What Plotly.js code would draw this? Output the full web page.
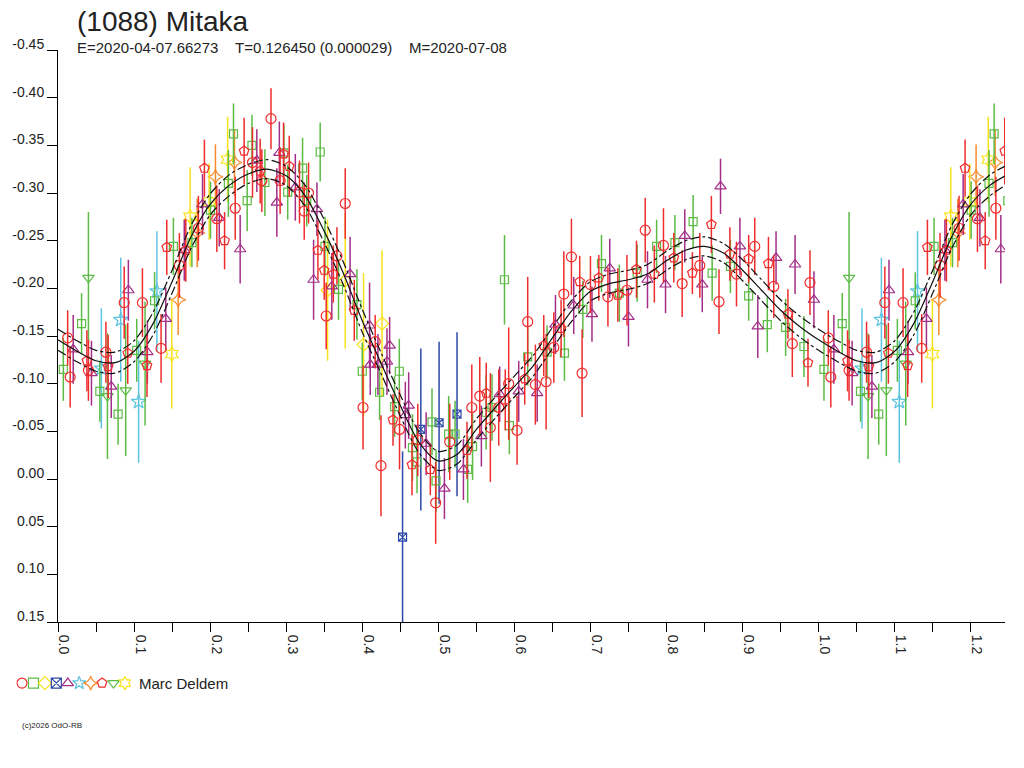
<!DOCTYPE html>
<html>
<head>
<meta charset="utf-8">
<script src="https://cdn.plot.ly/plotly-3.0.1.min.js"></script>
<style>
  html, body { margin: 0; padding: 0; background: #fff; }
  #lightcurve { width: 1024px; height: 768px; }
</style>
</head>
<body>
<div id="lightcurve"></div>
<script>
//chart global vars:
const font = 'Liberation Sans, Arial, sans-serif'
const textColor = '#222'
const xMax = 1.245

//red circles
const phaseRedCircle = [0.0127, 0.016, 0.040, 0.063, 0.087, 0.111, 0.1355, 0.1596, 0.1846, 0.2088, 0.233, 0.2557, 0.268, 0.280, 0.292, 0.3175, 0.3237, 0.3294, 0.3526, 0.3667, 0.3776, 0.401, 0.417, 0.4246, 0.449, 0.473, 0.4965, 0.515, 0.544, 0.5545, 0.5684, 0.5794, 0.5925, 0.6035, 0.6175, 0.6276, 0.6417, 0.6518, 0.665, 0.675, 0.689, 0.700, 0.723, 0.748, 0.772, 0.796, 0.8206, 0.8438, 0.869, 0.892, 0.916, 0.941, 0.9654, 0.9886]
const magRedCircle = [-0.148, -0.107, -0.114, -0.133, -0.185, -0.185, -0.137, -0.224, -0.263, -0.273, -0.284, -0.332, -0.313, -0.378, -0.313, -0.301, -0.281, -0.300, -0.171, -0.234, -0.289, -0.075, -0.144, -0.014, -0.052, -0.041, 0.025, -0.039, -0.075, -0.087, -0.054, -0.075, -0.100, -0.051, -0.165, -0.099, -0.102, -0.138, -0.194, -0.233, -0.111, -0.204, -0.191, -0.198, -0.261, -0.245, -0.205, -0.224, -0.186, -0.215, -0.244, -0.202, -0.142, -0.206]
const errRedCircle = [0.029, 0.032, 0.032, 0.032, 0.038, 0.036, 0.036, 0.034, 0.034, 0.035, 0.033, 0.037, 0.033, 0.032, 0.035, 0.033, 0.030, 0.032, 0.035, 0.030, 0.037, 0.044, 0.028, 0.053, 0.042, 0.038, 0.043, 0.040, 0.045, 0.041, 0.057, 0.040, 0.059, 0.036, 0.047, 0.042, 0.050, 0.037, 0.045, 0.040, 0.046, 0.030, 0.031, 0.037, 0.034, 0.039, 0.035, 0.034, 0.034, 0.034, 0.030, 0.033, 0.035, 0.034]

//green squares
const phaseGreenSquare = [0.007, 0.031, 0.055, 0.079, 0.1035, 0.127, 0.1517, 0.176, 0.2005, 0.224, 0.2307, 0.2487, 0.255, 0.272, 0.297, 0.302, 0.3215, 0.327, 0.3447, 0.351, 0.3688, 0.393, 0.400, 0.4228, 0.4425, 0.4487, 0.466, 0.472, 0.4917, 0.497, 0.5136, 0.522, 0.5386, 0.545, 0.5628, 0.5706, 0.587, 0.5934, 0.6175, 0.643, 0.6658, 0.690, 0.7145, 0.738, 0.7614, 0.787, 0.811, 0.835, 0.860, 0.884, 0.908, 0.9325, 0.9566, 0.9807]
const magGreenSquare = [-0.115, -0.163, -0.092, -0.068, -0.135, -0.187, -0.244, -0.248, -0.282, -0.310, -0.362, -0.292, -0.350, -0.311, -0.342, -0.301, -0.326, -0.292, -0.343, -0.244, -0.199, -0.183, -0.113, -0.091, -0.076, -0.113, -0.033, -0.018, -0.060, 0.002, -0.047, -0.047, -0.010, -0.034, -0.070, -0.075, -0.209, -0.056, -0.128, -0.133, -0.132, -0.178, -0.226, -0.195, -0.216, -0.244, -0.248, -0.270, -0.216, -0.223, -0.192, -0.162, -0.159, -0.139]
const errGreenSquare = [0.033, 0.032, 0.032, 0.032, 0.033, 0.030, 0.030, 0.026, 0.030, 0.035, 0.032, 0.032, 0.032, 0.035, 0.030, 0.029, 0.032, 0.027, 0.031, 0.031, 0.032, 0.037, 0.030, 0.029, 0.032, 0.034, 0.035, 0.033, 0.035, 0.033, 0.040, 0.035, 0.035, 0.035, 0.039, 0.035, 0.047, 0.030, 0.030, 0.028, 0.029, 0.030, 0.030, 0.030, 0.030, 0.028, 0.029, 0.028, 0.029, 0.028, 0.026, 0.029, 0.030, 0.032]

//yellow diamonds
const phaseYellowDiamond = [0.3544, 0.3776, 0.4017, 0.426]
const magYellowDiamond = [-0.198, -0.208, -0.141, -0.163]
const errYellowDiamond = [0.074, 0.071, 0.075, 0.077]

//blue crossed squares
const phaseBlueCross = [0.453, 0.477, 0.501, 0.5246]
const magBlueCross = [0.061, -0.052, -0.059, -0.068]
const errBlueCross = [0.090, 0.085, 0.085, 0.086]

//purple triangles
const phasePurpleTri = [0.020, 0.044, 0.070, 0.0925, 0.1175, 0.1417, 0.166, 0.190, 0.212, 0.2395, 0.2614, 0.2877, 0.291, 0.312, 0.336, 0.3404, 0.360, 0.384, 0.4096, 0.4105, 0.4206, 0.4325, 0.436, 0.4566, 0.461, 0.484, 0.508, 0.533, 0.5566, 0.5807, 0.6057, 0.630, 0.654, 0.678, 0.702, 0.7254, 0.750, 0.775, 0.7987, 0.824, 0.847, 0.871, 0.8965, 0.920, 0.944, 0.969, 0.9938]
const magPurpleTri = [-0.136, -0.111, -0.097, -0.198, -0.133, -0.168, -0.240, -0.288, -0.274, -0.241, -0.334, -0.290, -0.342, -0.306, -0.209, -0.283, -0.202, -0.215, -0.161, -0.120, -0.120, -0.123, -0.140, -0.067, -0.077, -0.037, 0.010, -0.010, -0.045, -0.089, -0.092, -0.090, -0.162, -0.182, -0.173, -0.221, -0.170, -0.209, -0.204, -0.255, -0.204, -0.307, -0.244, -0.160, -0.232, -0.225, -0.188]
const errPurpleTri = [0.036, 0.034, 0.033, 0.032, 0.033, 0.033, 0.032, 0.032, 0.030, 0.036, 0.033, 0.036, 0.033, 0.035, 0.042, 0.028, 0.035, 0.039, 0.045, 0.032, 0.032, 0.035, 0.030, 0.035, 0.035, 0.033, 0.032, 0.032, 0.032, 0.029, 0.032, 0.030, 0.031, 0.030, 0.029, 0.031, 0.031, 0.030, 0.030, 0.028, 0.029, 0.029, 0.030, 0.033, 0.028, 0.031, 0.030]

//cyan stars
const phaseCyanStar = [0.057, 0.0825, 0.106, 0.130]
const magCyanStar = [-0.116, -0.167, -0.081, -0.197]
const errCyanStar = [0.063, 0.065, 0.064, 0.063]

//orange four point stars
const phaseOrangeStar = [0.158, 0.183, 0.207, 0.232]
const magOrangeStar = [-0.188, -0.258, -0.317, -0.332]
const errOrangeStar = [0.037, 0.036, 0.034, 0.035]

//red pentagons
const phaseRedPenta = [0.038, 0.066, 0.0917, 0.117, 0.143, 0.168, 0.1925, 0.219, 0.2447, 0.2658, 0.2965, 0.304, 0.3417, 0.350, 0.362, 0.3895, 0.4404, 0.4654, 0.4895, 0.5377, 0.563, 0.588, 0.6136, 0.6386, 0.6614, 0.6859, 0.711, 0.736, 0.7605, 0.784, 0.8096, 0.834, 0.859, 0.8833, 0.908, 0.934, 0.9596, 0.986]
const magRedPenta = [-0.124, -0.118, -0.132, -0.119, -0.243, -0.240, -0.326, -0.250, -0.344, -0.323, -0.341, -0.328, -0.240, -0.219, -0.215, -0.177, -0.062, -0.015, -0.010, -0.030, -0.090, -0.083, -0.105, -0.140, -0.158, -0.207, -0.211, -0.193, -0.220, -0.215, -0.232, -0.216, -0.267, -0.236, -0.231, -0.226, -0.173, -0.122]
const errRedPenta = [0.032, 0.033, 0.032, 0.033, 0.029, 0.033, 0.030, 0.030, 0.035, 0.034, 0.033, 0.032, 0.031, 0.031, 0.030, 0.032, 0.027, 0.032, 0.027, 0.030, 0.032, 0.032, 0.027, 0.032, 0.030, 0.027, 0.024, 0.028, 0.030, 0.030, 0.026, 0.022, 0.030, 0.028, 0.025, 0.028, 0.026, 0.025]

//green down triangles
const phaseGreenDown = [0.040, 0.065, 0.089, 0.1145]
const magGreenDown = [-0.211, -0.087, -0.093, -0.121]
const errGreenDown = [0.069, 0.066, 0.069, 0.065]

//yellow six point stars
const phaseYellowStar = [0.1496, 0.1737, 0.1987, 0.223]
const magYellowStar = [-0.131, -0.275, -0.291, -0.335]
const errYellowStar = [0.057, 0.052, 0.040, 0.045]

//fitted curve (read every 0.025 in phase) and its band
const curvePhase = [0.000, 0.025, 0.050, 0.075, 0.100, 0.125, 0.150, 0.175, 0.200, 0.225, 0.250, 0.275, 0.300, 0.325, 0.350, 0.375, 0.400, 0.425, 0.450, 0.475, 0.500, 0.525, 0.550, 0.575, 0.600, 0.625, 0.650, 0.675, 0.700, 0.725, 0.750, 0.775, 0.800, 0.825, 0.850, 0.875, 0.900, 0.925, 0.950, 0.975]
const curveMag = [-0.146, -0.134, -0.124, -0.122, -0.134, -0.163, -0.207, -0.254, -0.288, -0.308, -0.320, -0.325, -0.318, -0.297, -0.260, -0.216, -0.166, -0.121, -0.077, -0.038, -0.019, -0.026, -0.052, -0.075, -0.097, -0.119, -0.148, -0.176, -0.197, -0.205, -0.209, -0.215, -0.229, -0.240, -0.244, -0.237, -0.219, -0.198, -0.177, -0.160]
const curveBand = [0.011, 0.011, 0.011, 0.011, 0.011, 0.012, 0.012, 0.012, 0.011, 0.011, 0.010, 0.010, 0.010, 0.011, 0.012, 0.012, 0.012, 0.011, 0.011, 0.011, 0.010, 0.010, 0.011, 0.011, 0.011, 0.011, 0.011, 0.011, 0.010, 0.010, 0.010, 0.010, 0.010, 0.010, 0.010, 0.010, 0.011, 0.011, 0.011, 0.011]

//tick labels
const xTickVals = [0, 0.1, 0.2, 0.3, 0.4, 0.5, 0.6, 0.7, 0.8, 0.9, 1.0, 1.1, 1.2]
const xTickText = ['0.0', '0.1', '0.2', '0.3', '0.4', '0.5', '0.6', '0.7', '0.8', '0.9', '1.0', '1.1', '1.2']
const yTickVals = [-0.45, -0.40, -0.35, -0.30, -0.25, -0.20, -0.15, -0.10, -0.05, 0.00, 0.05, 0.10, 0.15]
const yTickText = ['-0.45', '-0.40', '-0.35', '-0.30', '-0.25', '-0.20', '-0.15', '-0.10', '-0.05', '0.00', '0.05', '0.10', '0.15']

//phase folding: points before xMax-1 are shown again after 1.0
function fold(phase, ...cols) {
  let out = { x: [...phase], cols: cols.map((c) => [...c]) }
  phase.forEach((p, i) => {
    if (p + 1 <= xMax + 0.01) {
      out.x.push(p + 1)
      cols.forEach((c, k) => out.cols[k].push(c[i]))
    }
  })
  return out
}

function makeSeries(phase, mag, err, symbol, color, size) {
  let f = fold(phase, mag, err)
  return {
    x: f.x,
    y: f.cols[0],
    type: 'scatter',
    mode: 'markers',
    marker: { symbol: symbol, color: color, size: size, line: { width: 1.2, color: color } },
    error_y: { type: 'data', array: f.cols[1], visible: true, thickness: 1.5, width: 0, color: color },
    hoverinfo: 'x+y',
  }
}

const red = '#F02C2C'
const green = '#5CBB44'
const yellow = '#F8E21A'
const blue = '#2C48A8'
const purple = '#A32E88'
const cyan = '#5CC4DE'
const orange = '#F7892B'

const series = [
  ['diamond-open', yellow, 10, phaseYellowDiamond, magYellowDiamond, errYellowDiamond],
  ['star-open', cyan, 11, phaseCyanStar, magCyanStar, errCyanStar],
  ['triangle-down-open', green, 10, phaseGreenDown, magGreenDown, errGreenDown],
  ['star-diamond-open', orange, 11, phaseOrangeStar, magOrangeStar, errOrangeStar],
  ['hexagram-open', yellow, 11, phaseYellowStar, magYellowStar, errYellowStar],
  ['square-x-open', blue, 8, phaseBlueCross, magBlueCross, errBlueCross],
  ['square-open', green, 8, phaseGreenSquare, magGreenSquare, errGreenSquare],
  ['triangle-up-open', purple, 10, phasePurpleTri, magPurpleTri, errPurpleTri],
  ['pentagon-open', red, 10, phaseRedPenta, magRedPenta, errRedPenta],
  ['circle-open', red, 10, phaseRedCircle, magRedCircle, errRedCircle],
]

let traces = series.map(([sym, col, size, p, m, e]) => makeSeries(p, m, e, sym, col, size))

//curve + band
let c = fold(curvePhase, curveMag, curveBand)
let upper = c.cols[0].map((v, i) => v - c.cols[1][i])
let lower = c.cols[0].map((v, i) => v + c.cols[1][i])
const curveLine = { color: '#111', width: 1.2, shape: 'spline', smoothing: 0.8 }
traces.push({ x: c.x, y: upper, type: 'scatter', mode: 'lines', line: { ...curveLine, dash: 'dashdot' }, hoverinfo: 'skip' })
traces.push({ x: c.x, y: lower, type: 'scatter', mode: 'lines', line: { ...curveLine, dash: 'dashdot' }, hoverinfo: 'skip' })
traces.push({ x: c.x, y: c.cols[0], type: 'scatter', mode: 'lines', line: curveLine, hoverinfo: 'skip' })

//legend row of symbols (own hidden axes below the plot)
const legendSymbols = ['circle-open', 'square-open', 'diamond-open', 'square-x-open', 'triangle-up-open', 'star-open', 'star-diamond-open', 'pentagon-open', 'triangle-down-open', 'hexagram-open']
const legendColors = [red, green, yellow, blue, purple, cyan, orange, red, green, yellow]
traces.push({
  x: legendSymbols.map((s, i) => i + 1),
  y: legendSymbols.map(() => 0),
  xaxis: 'x2',
  yaxis: 'y2',
  type: 'scatter',
  mode: 'markers',
  marker: { symbol: legendSymbols, color: legendColors, size: 10, line: { width: 1.2, color: legendColors } },
  hoverinfo: 'skip',
})

const tickFont = { family: font, size: 14, color: textColor }

let layout = {
  width: 1024,
  height: 768,
  showlegend: false,
  paper_bgcolor: '#fff',
  plot_bgcolor: '#fff',
  margin: { l: 15, r: 19, t: 50, b: 28, pad: 0 },
  title: {
    text: '(1088) Mitaka',
    font: { family: font, size: 28, color: textColor },
    xref: 'container',
    yref: 'container',
    x: 77 / 1024,
    xanchor: 'left',
    y: 1 - 21 / 768,
    yanchor: 'middle',
  },
  xaxis: {
    domain: [43 / 990, 1],
    range: [0, xMax],
    anchor: 'y',
    tickmode: 'array',
    tickvals: xTickVals,
    ticktext: xTickText,
    tickangle: 90,
    ticklabelshift: 6,
    ticks: 'outside',
    ticklen: 9,
    tickcolor: '#000',
    minor: { dtick: 0.05, tick0: 0, ticks: 'outside', ticklen: 9, tickcolor: '#000', showgrid: false },
    showline: true,
    linecolor: '#000',
    linewidth: 1,
    showgrid: false,
    zeroline: false,
    tickfont: tickFont,
  },
  yaxis: {
    domain: [118 / 690, 1],
    range: [0.15, -0.45],
    anchor: 'x',
    tickmode: 'array',
    tickvals: yTickVals,
    ticktext: yTickText,
    ticklabelshift: 6,
    ticks: 'outside',
    ticklen: 10,
    tickcolor: '#000',
    showline: true,
    linecolor: '#000',
    linewidth: 1,
    showgrid: false,
    zeroline: false,
    tickfont: tickFont,
  },
  xaxis2: { domain: [1.3 / 990, 115.7 / 990], range: [0.5, 10.5], anchor: 'y2', visible: false, fixedrange: true },
  yaxis2: { domain: [0.065, 0.1], range: [-1, 1], anchor: 'x2', visible: false, fixedrange: true },
  annotations: [
    {
      xref: 'paper',
      yref: 'paper',
      x: 60 / 990,
      y: 692 / 690,
      xanchor: 'left',
      yanchor: 'middle',
      showarrow: false,
      text: 'E=2020-04-07.66273\u00a0\u00a0\u00a0\u00a0T=0.126450 (0.000029)\u00a0\u00a0\u00a0\u00a0M=2020-07-08',
      font: { family: font, size: 15, color: textColor },
    },
    {
      xref: 'paper',
      yref: 'paper',
      x: 122 / 990,
      y: 57 / 690,
      xanchor: 'left',
      yanchor: 'middle',
      showarrow: false,
      text: 'Marc Deldem',
      font: { family: font, size: 15, color: textColor },
    },
    {
      xref: 'paper',
      yref: 'paper',
      x: 5 / 990,
      y: 15 / 690,
      xanchor: 'left',
      yanchor: 'middle',
      showarrow: false,
      text: '(c)2026 OdO-RB',
      font: { family: font, size: 8, color: textColor },
    },
  ],
}

Plotly.newPlot('lightcurve', traces, layout, { displaylogo: false, staticPlot: true })
</script>
</body>
</html>
